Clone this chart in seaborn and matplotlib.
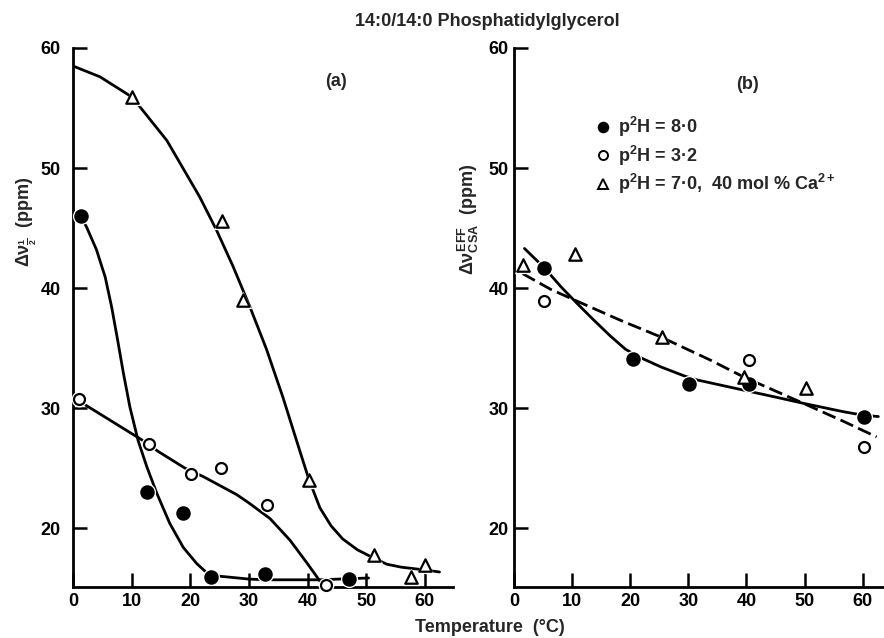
import seaborn as sns
import matplotlib.pyplot as plt
from matplotlib.lines import Line2D

# ---- panel (a): delta nu 1/2 vs temperature ----
temp_a_ph8 = [1.3, 12.7, 18.8, 23.6, 32.7, 47.0]
val_a_ph8 = [46.0, 23.0, 21.3, 15.9, 16.2, 15.75]
temp_a_ph3 = [1.0, 12.9, 20.2, 25.3, 33.0, 43.1]
val_a_ph3 = [30.75, 27.0, 24.5, 25.0, 21.9, 15.25]
temp_a_ca = [10.1, 25.4, 29.0, 40.2, 51.3, 57.7, 60.1]
val_a_ca = [55.9, 45.6, 39.0, 24.0, 17.75, 15.9, 16.9]

# hand drawn curves of panel (a)
curve_a_ph8_x = [1.3, 2.3, 4.0, 5.5, 6.6, 7.6, 8.6, 9.7, 11.1, 12.6, 14.3, 16.5,
                 18.8, 21.1, 23.0, 25.0, 30.2, 34.0, 42.0, 50.4]
curve_a_ph8_y = [46.0, 45.1, 43.2, 40.9, 38.4, 35.7, 32.9, 30.1, 27.3, 25.1, 22.9, 20.4,
                 18.4, 17.05, 16.2, 16.0, 15.75, 15.7, 15.7, 15.85]
curve_a_ph3_x = [1.0, 6.3, 11.1, 12.9, 14.5, 19.1, 22.2, 27.9, 30.0, 33.6,
                 37.0, 39.9, 42.1]
curve_a_ph3_y = [30.6, 29.0, 27.55, 27.0, 26.4, 25.0, 24.3, 22.8, 22.1, 20.8,
                 19.0, 17.1, 15.6]
curve_a_ca_x = [0.0, 4.6, 10.1, 16.0, 21.6, 24.5, 27.3, 30.2, 33.0, 35.8, 38.7, 40.2,
                42.1, 44.0, 46.0, 48.5, 51.3, 53.5, 56.0, 58.6, 62.5]
curve_a_ca_y = [58.5, 57.6, 55.9, 52.3, 47.6, 44.8, 41.8, 38.4, 34.9, 30.9, 26.4, 24.1,
                21.7, 20.2, 19.1, 18.2, 17.5, 17.0, 16.75, 16.6, 16.35]

# ---- panel (b): delta nu CSA eff vs temperature ----
temp_b_ph8 = [5.2, 20.5, 30.2, 40.4, 60.2]
val_b_ph8 = [41.7, 34.1, 32.0, 32.0, 29.3]
temp_b_ph3 = [5.1, 40.4, 60.2]
val_b_ph3 = [38.9, 34.05, 26.8]
temp_b_ca = [1.6, 10.5, 25.4, 39.5, 50.3]
val_b_ca = [41.9, 42.8, 35.9, 32.6, 31.7]

curve_b_solid_x = [1.8, 5.2, 8.1, 10.9, 13.8, 16.6, 19.2, 21.8, 25.2, 29.2, 31.5,
                   39.5, 45.2, 49.8, 56.7, 60.2, 62.7]
curve_b_solid_y = [43.3, 41.7, 40.1, 38.7, 37.3, 36.0, 34.9, 34.2, 33.45, 32.7, 32.35,
                   31.5, 30.9, 30.4, 29.7, 29.4, 29.3]
curve_b_dash_x = [1.5, 6.3, 10.9, 18.4, 25.4, 33.8, 39.5, 49.8, 56.7, 62.4]
curve_b_dash_y = [41.2, 39.9, 38.9, 37.3, 35.9, 34.0, 32.6, 30.4, 28.9, 27.6]

legend_labels = ['p$^2$H = 8·0', 'p$^2$H = 3·2', 'p$^2$H = 7·0,  40 mol % Ca$^{2+}$']
y_ticks = [20, 30, 40, 50, 60]
x_ticks = [0, 10, 20, 30, 40, 50, 60]

sns.set_style('ticks')
plt.rcParams['font.family'] = ['Liberation Sans', 'DejaVu Sans']
plt.rcParams['font.weight'] = 'bold'
plt.rcParams['mathtext.fontset'] = 'custom'
plt.rcParams['mathtext.rm'] = 'Liberation Sans:bold'
plt.rcParams['mathtext.it'] = 'Liberation Sans:bold'
plt.rcParams['mathtext.bf'] = 'Liberation Sans:bold'

W, H = 884, 638
fig = plt.figure(figsize=(W / 100, H / 100), dpi=100)
ax_a = fig.add_axes([73 / W, 51 / H, 380 / W, 539 / H])
ax_b = fig.add_axes([514 / W, 51 / H, 369 / W, 539 / H])

LW = 2.0


def curve(ax, x, y, ls='-'):
    sns.lineplot(x=x, y=y, sort=False, estimator=None, color='black', lw=LW,
                 linestyle=ls, solid_joinstyle='round', dash_joinstyle='round',
                 ax=ax, zorder=2)


def points(ax, x, y, marker, filled, s):
    # white halo so the curves look broken around the symbols
    halo = (s ** 0.5 + 3.5) ** 2
    sns.scatterplot(x=x, y=y, marker=marker, s=halo, color='white',
                    edgecolor='white', linewidth=0, ax=ax, zorder=3, clip_on=False)
    sns.scatterplot(x=x, y=y, marker=marker, s=s,
                    color='black' if filled else 'white', edgecolor='black',
                    linewidth=1.6, ax=ax, zorder=4, clip_on=False)


# panel (a)
curve(ax_a, curve_a_ph8_x, curve_a_ph8_y)
curve(ax_a, curve_a_ph3_x, curve_a_ph3_y)
curve(ax_a, curve_a_ca_x, curve_a_ca_y)
points(ax_a, temp_a_ph8, val_a_ph8, 'o', True, 78)
points(ax_a, temp_a_ph3, val_a_ph3, 'o', False, 62)
points(ax_a, temp_a_ca, val_a_ca, '^', False, 80)

# panel (b)
curve(ax_b, curve_b_solid_x, curve_b_solid_y)
curve(ax_b, curve_b_dash_x, curve_b_dash_y, ls=(0, (5, 2)))
points(ax_b, temp_b_ph8, val_b_ph8, 'o', True, 78)
points(ax_b, temp_b_ph3, val_b_ph3, 'o', False, 62)
points(ax_b, temp_b_ca, val_b_ca, '^', False, 80)

for ax, xmax, ypad in [(ax_a, 64.8, 9), (ax_b, 63.5, 4)]:
    ax.set_xlim(0, xmax)
    ax.set_ylim(15.1, 60)
    ax.set_xticks(x_ticks)
    ax.set_yticks(y_ticks)
    ax.set_xlabel('')
    ax.set_ylabel('')
    sns.despine(ax=ax)
    for side in ['left', 'bottom']:
        ax.spines[side].set_linewidth(2.0)
        ax.spines[side].set_color('black')
    ax.tick_params(direction='in', length=10, width=1.8, labelsize=13, colors='black')
    ax.tick_params(axis='y', pad=ypad)
    ax.tick_params(axis='x', pad=4)
    for lab in ax.get_xticklabels() + ax.get_yticklabels():
        lab.set_fontweight('bold')

ax_a.text(0.692, 0.937, '(a)', transform=ax_a.transAxes, ha='center', va='center',
          fontsize=13, fontweight='bold')
ax_b.text(0.634, 0.933, '(b)', transform=ax_b.transAxes, ha='center', va='center',
          fontsize=13, fontweight='bold')

handles = [
    Line2D([], [], ls='', marker='o', ms=7, mfc='black', mec='black', mew=1.3),
    Line2D([], [], ls='', marker='o', ms=6.5, mfc='white', mec='black', mew=1.4),
    Line2D([], [], ls='', marker='^', ms=7.5, mfc='white', mec='black', mew=1.4),
]
ax_b.legend(handles, legend_labels, loc='upper left', bbox_to_anchor=(596 / W, 1 - 115 / H),
            bbox_transform=fig.transFigure, frameon=False, borderpad=0, borderaxespad=0,
            handlelength=0.8, handletextpad=0.4, labelspacing=0.25,
            prop={'size': 13, 'weight': 'bold'})

fig.text(487 / W, 1 - 21 / H, '14:0/14:0 Phosphatidylglycerol', ha='center', va='center',
         fontsize=13, fontweight='bold')
fig.text(490 / W, 1 - 627 / H, 'Temperature  (°C)', ha='center', va='center',
         fontsize=13, fontweight='bold')
fig.text(27 / W, 1 - 222 / H, r'$\Delta\nu_{\frac{1}{2}}$  (ppm)', rotation=90,
         ha='center', va='center', fontsize=13, fontweight='bold')
fig.text(468 / W, 1 - 219 / H, r'$\Delta\nu^{\rm EFF}_{\rm CSA}$  (ppm)', rotation=90,
         ha='center', va='center', fontsize=13, fontweight='bold')

fig.savefig('out.png', dpi=100)
